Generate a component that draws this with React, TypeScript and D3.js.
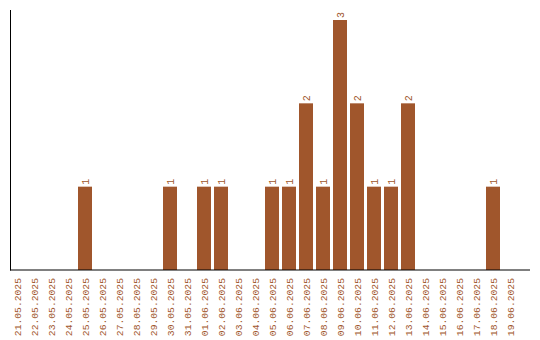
import React from "react";
import * as d3 from "d3";

const categories = [
  "21.05.2025", "22.05.2025", "23.05.2025", "24.05.2025", "25.05.2025",
  "26.05.2025", "27.05.2025", "28.05.2025", "29.05.2025", "30.05.2025",
  "31.05.2025", "01.06.2025", "02.06.2025", "03.06.2025", "04.06.2025",
  "05.06.2025", "06.06.2025", "07.06.2025", "08.06.2025", "09.06.2025",
  "10.06.2025", "11.06.2025", "12.06.2025", "13.06.2025", "14.06.2025",
  "15.06.2025", "16.06.2025", "17.06.2025", "18.06.2025", "19.06.2025",
];
const values = [0, 0, 0, 0, 1, 0, 0, 0, 0, 1, 0, 1, 1, 0, 0, 1, 1, 2, 1, 3, 2, 1, 1, 2, 0, 0, 0, 0, 1, 0];

const W = 540;
const H = 340;
const COLOR = "#A0562C";
const FONT = "'Liberation Mono', monospace";

export default function App() {
  const x = d3
    .scaleBand<string>()
    .domain(categories)
    .range([10, 517])
    .paddingInner(3 / 17)
    .paddingOuter(0);
  const y = d3.scaleLinear().domain([0, 3]).range([270, 20]);
  const bw = x.bandwidth();

  return (
    <svg
      width={W}
      height={H}
      style={{ position: "absolute", left: 0, top: 0, background: "#fff" }}
    >
      {categories.map((c, i) => {
        const v = values[i];
        const bx = x(c) as number;
        const cx = bx + bw / 2;
        return (
          <g key={c}>
            {v > 0 && (
              <>
                <rect x={bx} y={y(v)} width={bw} height={y(0) - y(v)} fill={COLOR} />
                <text
                  transform={`translate(${cx + 3.5},${y(v) - 2}) rotate(-90)`}
                  fontFamily={FONT}
                  fontSize={10}
                  fill={COLOR}
                  textAnchor="start"
                >
                  {v}
                </text>
              </>
            )}
            <text
              transform={`translate(${cx + 3.5},${278}) rotate(-90)`}
              fontFamily={FONT}
              fontSize={9.7}
              fill={COLOR}
              textAnchor="end"
            >
              {c}
            </text>
          </g>
        );
      })}
      <line x1={10.5} x2={10.5} y1={10} y2={270.5} stroke="#000" strokeWidth={1} />
      <line x1={10} x2={530} y1={270} y2={270} stroke="#000" strokeWidth={1} />
    </svg>
  );
}
